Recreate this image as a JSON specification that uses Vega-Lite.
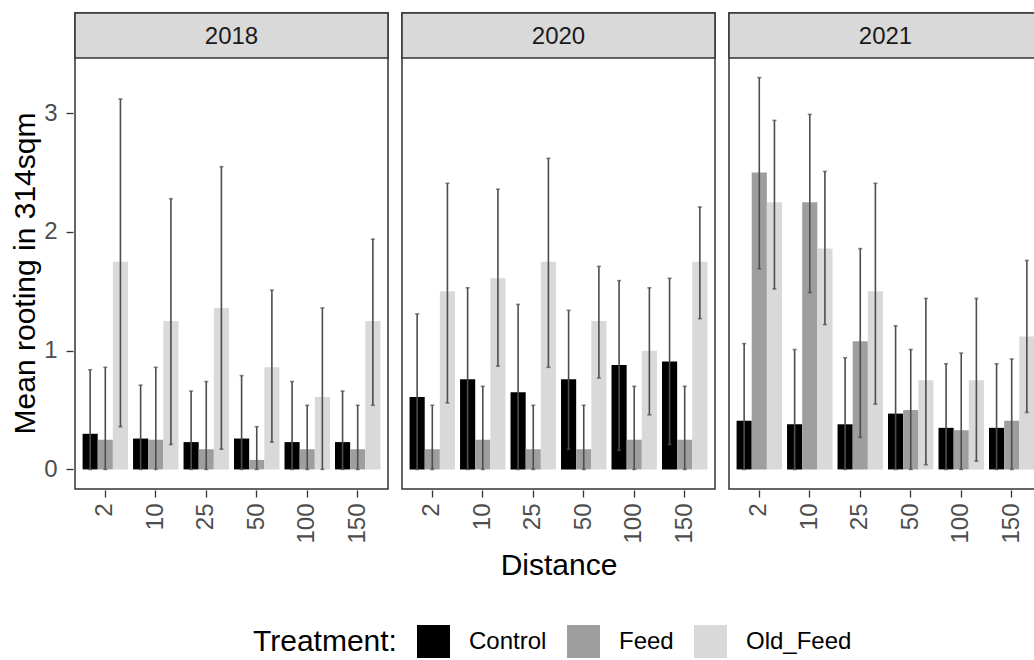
{
  "$schema": "https://vega.github.io/schema/vega-lite/v6.json",
  "padding": {"left": 10, "top": 11, "right": 0, "bottom": 0},
  "background": "white",
  "config": {
    "font": "Liberation Sans",
    "view": {"stroke": "#333333", "strokeWidth": 1.5},
    "axis": {
      "grid": false,
      "domain": false,
      "tickColor": "#333333",
      "tickWidth": 1.3,
      "tickSize": 7,
      "labelColor": "#4d4d4d",
      "labelFontSize": 24,
      "titleFontSize": 30,
      "titleFontWeight": "normal",
      "titleColor": "#000000"
    },
    "header": {
      "titleFontSize": 30,
      "titleFontWeight": "normal",
      "titleColor": "#000000",
      "titleFont": "Liberation Sans"
    },
    "legend": {
      "orient": "none",
      "legendX": 178,
      "legendY": 612,
      "direction": "horizontal",
      "columns": 3,
      "titleOrient": "left",
      "titleFontSize": 30,
      "titleFontWeight": "normal",
      "titleColor": "#000000",
      "titlePadding": 20,
      "labelFontSize": 24,
      "labelColor": "#000000",
      "symbolType": "square",
      "symbolSize": 1089,
      "symbolStrokeWidth": 0,
      "labelOffset": 19,
      "columnPadding": 20
    }
  },
  "data": {
    "values": [
      {"Year": "2018", "Distance": 2, "Treatment": "Control", "mean": 0.30, "lo": 0, "hi": 0.84},
      {"Year": "2018", "Distance": 2, "Treatment": "Feed", "mean": 0.25, "lo": 0, "hi": 0.86},
      {"Year": "2018", "Distance": 2, "Treatment": "Old_Feed", "mean": 1.75, "lo": 0.36, "hi": 3.12},
      {"Year": "2018", "Distance": 10, "Treatment": "Control", "mean": 0.26, "lo": 0, "hi": 0.71},
      {"Year": "2018", "Distance": 10, "Treatment": "Feed", "mean": 0.25, "lo": 0, "hi": 0.86},
      {"Year": "2018", "Distance": 10, "Treatment": "Old_Feed", "mean": 1.25, "lo": 0.21, "hi": 2.28},
      {"Year": "2018", "Distance": 25, "Treatment": "Control", "mean": 0.23, "lo": 0, "hi": 0.66},
      {"Year": "2018", "Distance": 25, "Treatment": "Feed", "mean": 0.17, "lo": 0, "hi": 0.74},
      {"Year": "2018", "Distance": 25, "Treatment": "Old_Feed", "mean": 1.36, "lo": 0.17, "hi": 2.55},
      {"Year": "2018", "Distance": 50, "Treatment": "Control", "mean": 0.26, "lo": 0, "hi": 0.79},
      {"Year": "2018", "Distance": 50, "Treatment": "Feed", "mean": 0.08, "lo": 0, "hi": 0.36},
      {"Year": "2018", "Distance": 50, "Treatment": "Old_Feed", "mean": 0.86, "lo": 0.23, "hi": 1.51},
      {"Year": "2018", "Distance": 100, "Treatment": "Control", "mean": 0.23, "lo": 0, "hi": 0.74},
      {"Year": "2018", "Distance": 100, "Treatment": "Feed", "mean": 0.17, "lo": 0, "hi": 0.54},
      {"Year": "2018", "Distance": 100, "Treatment": "Old_Feed", "mean": 0.61, "lo": 0, "hi": 1.36},
      {"Year": "2018", "Distance": 150, "Treatment": "Control", "mean": 0.23, "lo": 0, "hi": 0.66},
      {"Year": "2018", "Distance": 150, "Treatment": "Feed", "mean": 0.17, "lo": 0, "hi": 0.54},
      {"Year": "2018", "Distance": 150, "Treatment": "Old_Feed", "mean": 1.25, "lo": 0.54, "hi": 1.94},
      {"Year": "2020", "Distance": 2, "Treatment": "Control", "mean": 0.61, "lo": 0, "hi": 1.31},
      {"Year": "2020", "Distance": 2, "Treatment": "Feed", "mean": 0.17, "lo": 0, "hi": 0.54},
      {"Year": "2020", "Distance": 2, "Treatment": "Old_Feed", "mean": 1.50, "lo": 0.56, "hi": 2.41},
      {"Year": "2020", "Distance": 10, "Treatment": "Control", "mean": 0.76, "lo": 0, "hi": 1.53},
      {"Year": "2020", "Distance": 10, "Treatment": "Feed", "mean": 0.25, "lo": 0, "hi": 0.70},
      {"Year": "2020", "Distance": 10, "Treatment": "Old_Feed", "mean": 1.61, "lo": 0.87, "hi": 2.36},
      {"Year": "2020", "Distance": 25, "Treatment": "Control", "mean": 0.65, "lo": 0, "hi": 1.39},
      {"Year": "2020", "Distance": 25, "Treatment": "Feed", "mean": 0.17, "lo": 0, "hi": 0.54},
      {"Year": "2020", "Distance": 25, "Treatment": "Old_Feed", "mean": 1.75, "lo": 0.86, "hi": 2.62},
      {"Year": "2020", "Distance": 50, "Treatment": "Control", "mean": 0.76, "lo": 0.17, "hi": 1.34},
      {"Year": "2020", "Distance": 50, "Treatment": "Feed", "mean": 0.17, "lo": 0, "hi": 0.54},
      {"Year": "2020", "Distance": 50, "Treatment": "Old_Feed", "mean": 1.25, "lo": 0.77, "hi": 1.71},
      {"Year": "2020", "Distance": 100, "Treatment": "Control", "mean": 0.88, "lo": 0.16, "hi": 1.59},
      {"Year": "2020", "Distance": 100, "Treatment": "Feed", "mean": 0.25, "lo": 0, "hi": 0.70},
      {"Year": "2020", "Distance": 100, "Treatment": "Old_Feed", "mean": 1.00, "lo": 0.46, "hi": 1.53},
      {"Year": "2020", "Distance": 150, "Treatment": "Control", "mean": 0.91, "lo": 0.21, "hi": 1.61},
      {"Year": "2020", "Distance": 150, "Treatment": "Feed", "mean": 0.25, "lo": 0, "hi": 0.70},
      {"Year": "2020", "Distance": 150, "Treatment": "Old_Feed", "mean": 1.75, "lo": 1.27, "hi": 2.21},
      {"Year": "2021", "Distance": 2, "Treatment": "Control", "mean": 0.41, "lo": 0, "hi": 1.06},
      {"Year": "2021", "Distance": 2, "Treatment": "Feed", "mean": 2.50, "lo": 1.69, "hi": 3.30},
      {"Year": "2021", "Distance": 2, "Treatment": "Old_Feed", "mean": 2.25, "lo": 1.52, "hi": 2.94},
      {"Year": "2021", "Distance": 10, "Treatment": "Control", "mean": 0.38, "lo": 0, "hi": 1.01},
      {"Year": "2021", "Distance": 10, "Treatment": "Feed", "mean": 2.25, "lo": 1.49, "hi": 2.99},
      {"Year": "2021", "Distance": 10, "Treatment": "Old_Feed", "mean": 1.86, "lo": 1.22, "hi": 2.51},
      {"Year": "2021", "Distance": 25, "Treatment": "Control", "mean": 0.38, "lo": 0, "hi": 0.94},
      {"Year": "2021", "Distance": 25, "Treatment": "Feed", "mean": 1.08, "lo": 0.27, "hi": 1.86},
      {"Year": "2021", "Distance": 25, "Treatment": "Old_Feed", "mean": 1.50, "lo": 0.55, "hi": 2.41},
      {"Year": "2021", "Distance": 50, "Treatment": "Control", "mean": 0.47, "lo": 0, "hi": 1.21},
      {"Year": "2021", "Distance": 50, "Treatment": "Feed", "mean": 0.50, "lo": 0, "hi": 1.01},
      {"Year": "2021", "Distance": 50, "Treatment": "Old_Feed", "mean": 0.75, "lo": 0.04, "hi": 1.44},
      {"Year": "2021", "Distance": 100, "Treatment": "Control", "mean": 0.35, "lo": 0, "hi": 0.89},
      {"Year": "2021", "Distance": 100, "Treatment": "Feed", "mean": 0.33, "lo": 0, "hi": 0.98},
      {"Year": "2021", "Distance": 100, "Treatment": "Old_Feed", "mean": 0.75, "lo": 0.07, "hi": 1.44},
      {"Year": "2021", "Distance": 150, "Treatment": "Control", "mean": 0.35, "lo": 0, "hi": 0.89},
      {"Year": "2021", "Distance": 150, "Treatment": "Feed", "mean": 0.41, "lo": 0, "hi": 0.93},
      {"Year": "2021", "Distance": 150, "Treatment": "Old_Feed", "mean": 1.12, "lo": 0.48, "hi": 1.76}
    ]
  },
  "spacing": 10,
  "facet": {
    "column": {"field": "Year", "type": "nominal", "title": "Distance", "header": {"titleOrient": "bottom", "titlePadding": -3, "labels": false}}
  },
  "spec": {
    "width": 313,
    "height": 476,
    "layer": [
      {
        "transform": [{"aggregate": [{"op": "count", "as": "n"}], "groupby": ["Year"]}],
        "mark": {"type": "rect", "fill": "#d9d9d9", "stroke": "#333333", "strokeWidth": 1.5},
        "encoding": {
          "y": {"datum": 3.465, "type": "quantitative", "title": "Mean rooting in 314sqm", "scale": {"domain": [-0.165, 3.8445], "nice": false, "zero": false}},
          "y2": {"datum": 3.8445}
        }
      },
      {
        "transform": [{"aggregate": [{"op": "count", "as": "n"}], "groupby": ["Year"]}],
        "mark": {"type": "text", "fontSize": 24, "color": "#1a1a1a", "baseline": "middle", "align": "center"},
        "encoding": {
          "y": {"datum": 3.645, "type": "quantitative", "title": "Mean rooting in 314sqm", "scale": {"domain": [-0.165, 3.8445], "nice": false, "zero": false}},
          "text": {"field": "Year", "type": "nominal"}
        }
      },
      {
        "mark": {"type": "bar", "strokeWidth": 0},
        "encoding": {
          "x": {"field": "Distance", "type": "ordinal", "title": null, "scale": {"paddingInner": 0.1, "paddingOuter": 0.15}, "axis": {"labelAngle": 270, "labelPadding": 6}},
          "xOffset": {"field": "Treatment", "type": "nominal", "scale": {"domain": ["Control", "Feed", "Old_Feed"], "paddingInner": 0, "paddingOuter": 0}},
          "y": {"field": "mean", "type": "quantitative", "title": "Mean rooting in 314sqm", "scale": {"domain": [-0.165, 3.8445], "nice": false, "zero": false}, "axis": {"values": [0, 1, 2, 3], "format": "d", "labelPadding": 9, "titlePadding": 3, "titleY": 260}},
          "y2": {"datum": 0},
          "fill": {"field": "Treatment", "type": "nominal", "title": "Treatment:", "scale": {"domain": ["Control", "Feed", "Old_Feed"], "range": ["#000000", "#9e9e9e", "#d9d9d9"]}}
        }
      },
      {
        "mark": {"type": "rule", "color": "#4d4d4d", "strokeWidth": 1.6},
        "encoding": {
          "x": {"field": "Distance", "type": "ordinal", "title": null},
          "xOffset": {"field": "Treatment", "type": "nominal"},
          "y": {"field": "lo", "type": "quantitative", "title": "Mean rooting in 314sqm"},
          "y2": {"field": "hi"}
        }
      },
      {
        "mark": {"type": "tick", "color": "#4d4d4d", "thickness": 1.6, "size": 4},
        "encoding": {
          "x": {"field": "Distance", "type": "ordinal", "title": null},
          "xOffset": {"field": "Treatment", "type": "nominal"},
          "y": {"field": "hi", "type": "quantitative", "title": "Mean rooting in 314sqm"}
        }
      },
      {
        "mark": {"type": "tick", "color": "#4d4d4d", "thickness": 1.6, "size": 4},
        "encoding": {
          "x": {"field": "Distance", "type": "ordinal", "title": null},
          "xOffset": {"field": "Treatment", "type": "nominal"},
          "y": {"field": "lo", "type": "quantitative", "title": "Mean rooting in 314sqm"}
        }
      }
    ]
  }
}
